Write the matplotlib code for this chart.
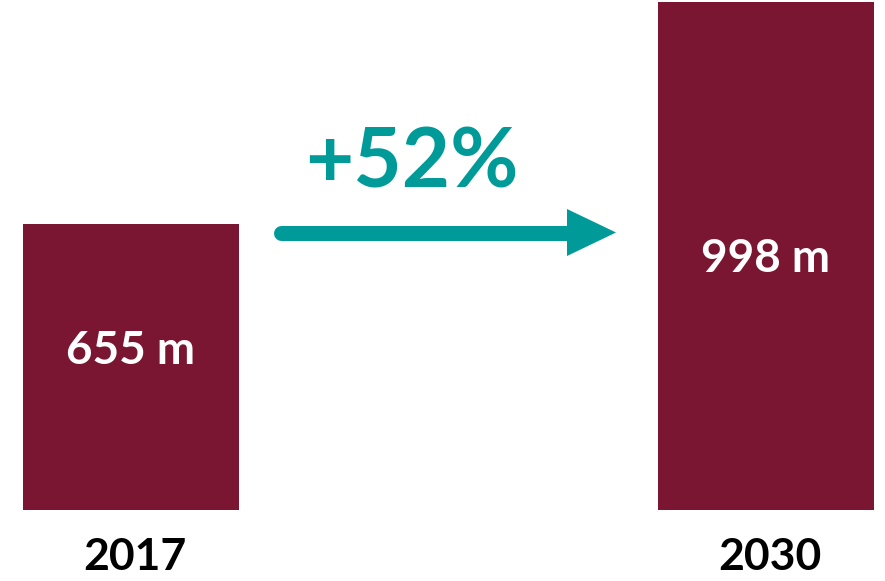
import matplotlib.pyplot as plt
from matplotlib.transforms import Affine2D, blended_transform_factory
from matplotlib.patches import Polygon

years = ['2017', '2030']
values = [655, 998]
labels = ['655 m', '998 m']
growth = '+52%'

bar_color = '#7A1631'
teal = '#009B98'

W, H = 885, 581
fig = plt.figure(figsize=(W / 100, H / 100), dpi=100)
ax = fig.add_axes([0, 0, 1, 1])
ax.axis('off')

# value axis does not start at zero in the original
baseline = 213
ax.bar([0, 1], [v - baseline for v in values], bottom=baseline, width=0.34, color=bar_color)
ax.set_xlim(-0.2063, 1.1874)
ax.set_ylim(103.4, 1001.1)

# pixel coords measured from the top-left corner
px = Affine2D().scale(1 / W, -1 / H).translate(0, 1) + fig.transFigure
xpx = blended_transform_factory(ax.transData, px)

font = dict(family='Lato', weight='bold')

# value labels inside bars
ax.text(0, 364, labels[0], transform=xpx, ha='center', va='baseline', color='white', fontsize=33, **font)
ax.text(1, 272, labels[1], transform=xpx, ha='center', va='baseline', color='white', fontsize=33, **font)

# year labels under bars
for i, y in enumerate(years):
    ax.text(i + 0.006, 570, y, transform=xpx, ha='center', va='baseline', color='black', fontsize=32, **font)

# growth arrow and text
fig.text(412, 187, growth, transform=px, ha='center', va='baseline', color=teal, fontsize=60, **font)
fig.add_artist(plt.Line2D([281, 570], [232.5, 232.5], transform=px, color=teal,
                          linewidth=10.8, solid_capstyle='round'))
fig.add_artist(Polygon([[567, 209], [616, 232.5], [567, 256]], closed=True, transform=px,
                       facecolor=teal, edgecolor='none'))

plt.savefig('out.png', dpi=100)
